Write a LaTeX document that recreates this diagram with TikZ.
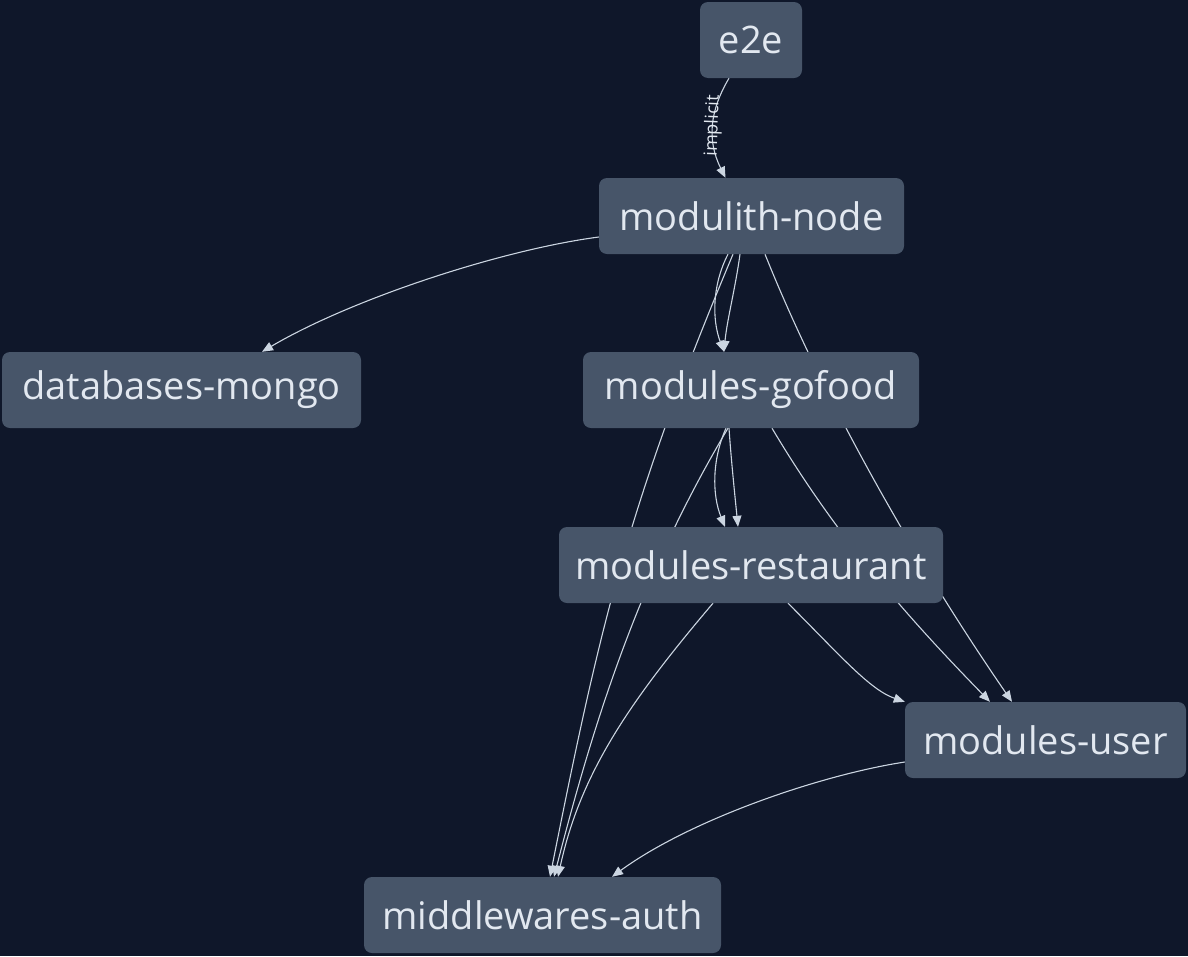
\documentclass[tikz,border=0pt]{standalone}
\usepackage{fontspec}
\setmainfont{Open Sans}
\usetikzlibrary{arrows.meta}

\definecolor{canvasbg}{HTML}{0F172A}
\definecolor{boxfill}{HTML}{475569}
\definecolor{boxtext}{HTML}{E2E8F0}
\definecolor{edgecol}{HTML}{CBD5E1}

\pgfdeclarelayer{bg}
\pgfdeclarelayer{links}
\pgfsetlayers{bg,links,main}

\begin{document}
\begin{tikzpicture}[x=1pt, y=-1pt,
    proj/.style={fill=boxfill, text=boxtext, rounded corners=8pt,
        minimum height=76pt, inner xsep=10pt, font=\fontsize{38}{45}\selectfont},
    dep/.style={draw=edgecol, line width=1.1pt, -{Triangle[length=11pt,width=9pt]}},
    lbl/.style={text=boxtext, inner sep=0pt, font=\fontsize{18}{21}\selectfont}]

    % CANVAS
    \begin{pgfonlayer}{bg}
        \fill[canvasbg] (0,0) rectangle (1188,956);
    \end{pgfonlayer}
    \useasboundingbox (0,0) rectangle (1188,956);

    % PROJECTS
    \node[proj, minimum width=102pt] (e2e) at (751,40) {e2e};
    \node[proj, minimum width=305pt] (modulith) at (751.5,216) {modulith-node};
    \node[proj, minimum width=359pt] (mongo) at (181.5,390) {databases-mongo};
    \node[proj, minimum width=336pt] (gofood) at (751,390) {modules-gofood};
    \node[proj, minimum width=384pt] (restaurant) at (751,565) {modules-restaurant};
    \node[proj, minimum width=281pt] (user) at (1045.5,740) {modules-user};
    \node[proj, minimum width=357pt] (auth) at (542.5,915) {middlewares-auth};

    % DEPENDENCIES (behind the boxes)
    \begin{pgfonlayer}{links}
        % implicit one from e2e
        \draw[dep] ([xshift=-22pt]e2e.south) .. controls +(-19,32) and +(-19,-38) ..
            ([xshift=-26pt]modulith.north) node[lbl, pos=0.5, rotate=88] (implicitlbl) {implicit};

        % from modulith-node
        \draw[dep] ([yshift=-21pt]modulith.west) .. controls +(-99,13) and +(88,-52) .. ([xshift=80.5pt]mongo.north);
        \draw[dep] ([xshift=-23.5pt]modulith.south) .. controls +(-16,31) and +(-12,-32) .. ([xshift=-27pt]gofood.north);
        \draw[dep] ([xshift=-11.5pt]modulith.south) .. controls +(-5,36) and +(3,-32) .. ([xshift=-27pt]gofood.north);
        \draw[dep] ([xshift=-18.5pt]modulith.south) .. controls +(-105,250) and +(50,-251) .. ([xshift=7.5pt]auth.north);
        \draw[dep] ([xshift=13.5pt]modulith.south) .. controls +(60,150) and +(-91,-132) .. ([xshift=-33.5pt]user.north);

        % from modules-gofood
        \draw[dep] ([xshift=-25pt]gofood.south) .. controls +(-14,31) and +(-13,-32) .. ([xshift=-26pt]restaurant.north);
        \draw[dep] ([xshift=-22pt]gofood.south) .. controls +(2,30) and +(-3,-30) .. ([xshift=-13pt]restaurant.north);
        \draw[dep] ([xshift=-23pt]gofood.south) .. controls +(-90,151) and +(39,-152) .. ([xshift=11.5pt]auth.north);
        \draw[dep] ([xshift=21pt]gofood.south) .. controls +(66,111) and +(-80,-82) .. ([xshift=-55.5pt]user.north);

        % from modules-restaurant
        \draw[dep] ([xshift=-38pt]restaurant.south) .. controls +(-85,100) and +(22,-102) .. ([xshift=15.5pt]auth.north);
        \draw[dep] ([xshift=37pt]restaurant.south) .. controls +(52,52) and +(-35,-12) .. (user.north west);

        % from modules-user
        \draw[dep] ([yshift=-22pt]user.west) .. controls +(-85,13) and +(78,-57) .. ([xshift=69.5pt]auth.north);
    \end{pgfonlayer}

\end{tikzpicture}
\end{document}
